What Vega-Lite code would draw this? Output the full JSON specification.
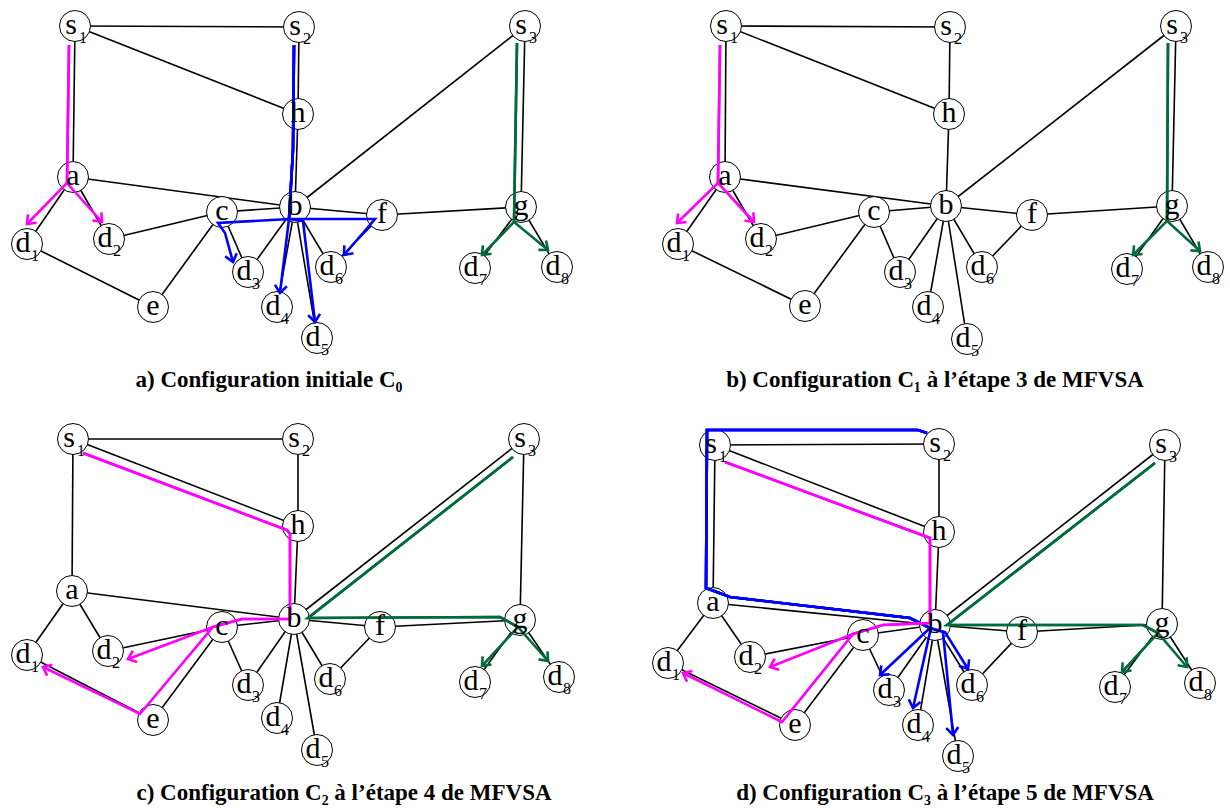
{
  "$schema": "https://vega.github.io/schema/vega-lite/v6.json",
  "width": 1230,
  "height": 809,
  "autosize": {"type": "fit", "contains": "padding"},
  "padding": 0,
  "background": "white",
  "config": {"view": {"stroke": null}},
  "datasets": {
    "nodes": [
      {"k":"a:s1","n":"s","sub":"1","x":75,"y":26},{"k":"a:s2","n":"s","sub":"2","x":299,"y":27},{"k":"a:s3","n":"s","sub":"3","x":525,"y":26},
      {"k":"a:h","n":"h","sub":"","x":298,"y":114},{"k":"a:a","n":"a","sub":"","x":73,"y":177},{"k":"a:b","n":"b","sub":"","x":295,"y":207},
      {"k":"a:c","n":"c","sub":"","x":222,"y":212},{"k":"a:f","n":"f","sub":"","x":382,"y":215},{"k":"a:g","n":"g","sub":"","x":521,"y":207},
      {"k":"a:d1","n":"d","sub":"1","x":27,"y":244},{"k":"a:d2","n":"d","sub":"2","x":109,"y":239},{"k":"a:d3","n":"d","sub":"3","x":248,"y":272},
      {"k":"a:d4","n":"d","sub":"4","x":277,"y":307},{"k":"a:d5","n":"d","sub":"5","x":317,"y":338},{"k":"a:d6","n":"d","sub":"6","x":331,"y":267},
      {"k":"a:d7","n":"d","sub":"7","x":475,"y":268},{"k":"a:d8","n":"d","sub":"8","x":557,"y":267},{"k":"a:e","n":"e","sub":"","x":153,"y":307},

      {"k":"b:s1","n":"s","sub":"1","x":726,"y":26},{"k":"b:s2","n":"s","sub":"2","x":950,"y":27},{"k":"b:s3","n":"s","sub":"3","x":1176,"y":26},
      {"k":"b:h","n":"h","sub":"","x":949,"y":114},{"k":"b:a","n":"a","sub":"","x":725,"y":177},{"k":"b:b","n":"b","sub":"","x":946,"y":206},
      {"k":"b:c","n":"c","sub":"","x":874,"y":212},{"k":"b:f","n":"f","sub":"","x":1032,"y":215},{"k":"b:g","n":"g","sub":"","x":1172,"y":206},
      {"k":"b:d1","n":"d","sub":"1","x":678,"y":244},{"k":"b:d2","n":"d","sub":"2","x":761,"y":239},{"k":"b:d3","n":"d","sub":"3","x":900,"y":272},
      {"k":"b:d4","n":"d","sub":"4","x":928,"y":307},{"k":"b:d5","n":"d","sub":"5","x":967,"y":339},{"k":"b:d6","n":"d","sub":"6","x":982,"y":267},
      {"k":"b:d7","n":"d","sub":"7","x":1127,"y":269},{"k":"b:d8","n":"d","sub":"8","x":1208,"y":267},{"k":"b:e","n":"e","sub":"","x":805,"y":306},

      {"k":"c:s1","n":"s","sub":"1","x":73,"y":439},{"k":"c:s2","n":"s","sub":"2","x":298,"y":439},{"k":"c:s3","n":"s","sub":"3","x":524,"y":439},
      {"k":"c:h","n":"h","sub":"","x":298,"y":526},{"k":"c:a","n":"a","sub":"","x":72,"y":591},{"k":"c:b","n":"b","sub":"","x":294,"y":619},
      {"k":"c:c","n":"c","sub":"","x":222,"y":627},{"k":"c:f","n":"f","sub":"","x":380,"y":627},{"k":"c:g","n":"g","sub":"","x":520,"y":620},
      {"k":"c:d1","n":"d","sub":"1","x":27,"y":655},{"k":"c:d2","n":"d","sub":"2","x":108,"y":651},{"k":"c:d3","n":"d","sub":"3","x":248,"y":685},
      {"k":"c:d4","n":"d","sub":"4","x":277,"y":718},{"k":"c:d5","n":"d","sub":"5","x":317,"y":750},{"k":"c:d6","n":"d","sub":"6","x":330,"y":679},
      {"k":"c:d7","n":"d","sub":"7","x":475,"y":682},{"k":"c:d8","n":"d","sub":"8","x":559,"y":677},{"k":"c:e","n":"e","sub":"","x":153,"y":720},

      {"k":"d:s1","n":"s","sub":"1","x":715,"y":445},{"k":"d:s2","n":"s","sub":"2","x":939,"y":444},{"k":"d:s3","n":"s","sub":"3","x":1165,"y":445},
      {"k":"d:h","n":"h","sub":"","x":939,"y":532},{"k":"d:a","n":"a","sub":"","x":713,"y":603},{"k":"d:b","n":"b","sub":"","x":935,"y":625},
      {"k":"d:c","n":"c","sub":"","x":863,"y":635},{"k":"d:f","n":"f","sub":"","x":1022,"y":632},{"k":"d:g","n":"g","sub":"","x":1162,"y":624},
      {"k":"d:d1","n":"d","sub":"1","x":668,"y":663},{"k":"d:d2","n":"d","sub":"2","x":750,"y":657},{"k":"d:d3","n":"d","sub":"3","x":889,"y":690},
      {"k":"d:d4","n":"d","sub":"4","x":918,"y":725},{"k":"d:d5","n":"d","sub":"5","x":958,"y":756},{"k":"d:d6","n":"d","sub":"6","x":972,"y":685},
      {"k":"d:d7","n":"d","sub":"7","x":1115,"y":687},{"k":"d:d8","n":"d","sub":"8","x":1200,"y":683},{"k":"d:e","n":"e","sub":"","x":795,"y":725}
    ],
    "edges": [
      {"s":"a:s1","t":"a:s2"},{"s":"a:s1","t":"a:h"},{"s":"a:s1","t":"a:a"},{"s":"a:s2","t":"a:h"},{"s":"a:h","t":"a:b"},{"s":"a:a","t":"a:b"},
      {"s":"a:a","t":"a:d1"},{"s":"a:a","t":"a:d2"},{"s":"a:d2","t":"a:c"},{"s":"a:c","t":"a:b"},{"s":"a:c","t":"a:e"},{"s":"a:c","t":"a:d3"},
      {"s":"a:d1","t":"a:e"},{"s":"a:b","t":"a:d3"},{"s":"a:b","t":"a:d4"},{"s":"a:b","t":"a:d5"},{"s":"a:b","t":"a:d6"},{"s":"a:b","t":"a:f"},
      {"s":"a:f","t":"a:d6"},{"s":"a:b","t":"a:s3"},{"s":"a:f","t":"a:g"},{"s":"a:s3","t":"a:g"},{"s":"a:g","t":"a:d7"},{"s":"a:g","t":"a:d8"},

      {"s":"b:s1","t":"b:s2"},{"s":"b:s1","t":"b:h"},{"s":"b:s1","t":"b:a"},{"s":"b:s2","t":"b:h"},{"s":"b:h","t":"b:b"},{"s":"b:a","t":"b:b"},
      {"s":"b:a","t":"b:d1"},{"s":"b:a","t":"b:d2"},{"s":"b:d2","t":"b:c"},{"s":"b:c","t":"b:b"},{"s":"b:c","t":"b:e"},{"s":"b:c","t":"b:d3"},
      {"s":"b:d1","t":"b:e"},{"s":"b:b","t":"b:d3"},{"s":"b:b","t":"b:d4"},{"s":"b:b","t":"b:d5"},{"s":"b:b","t":"b:d6"},{"s":"b:b","t":"b:f"},
      {"s":"b:f","t":"b:d6"},{"s":"b:b","t":"b:s3"},{"s":"b:f","t":"b:g"},{"s":"b:s3","t":"b:g"},{"s":"b:g","t":"b:d7"},{"s":"b:g","t":"b:d8"},

      {"s":"c:s1","t":"c:s2"},{"s":"c:s1","t":"c:h"},{"s":"c:s1","t":"c:a"},{"s":"c:s2","t":"c:h"},{"s":"c:h","t":"c:b"},{"s":"c:a","t":"c:b"},
      {"s":"c:a","t":"c:d1"},{"s":"c:a","t":"c:d2"},{"s":"c:d2","t":"c:c"},{"s":"c:c","t":"c:b"},{"s":"c:c","t":"c:e"},{"s":"c:c","t":"c:d3"},
      {"s":"c:d1","t":"c:e"},{"s":"c:b","t":"c:d3"},{"s":"c:b","t":"c:d4"},{"s":"c:b","t":"c:d5"},{"s":"c:b","t":"c:d6"},{"s":"c:b","t":"c:f"},
      {"s":"c:f","t":"c:d6"},{"s":"c:b","t":"c:s3"},{"s":"c:f","t":"c:g"},{"s":"c:s3","t":"c:g"},{"s":"c:g","t":"c:d7"},{"s":"c:g","t":"c:d8"},

      {"s":"d:s1","t":"d:s2"},{"s":"d:s1","t":"d:h"},{"s":"d:s1","t":"d:a"},{"s":"d:s2","t":"d:h"},{"s":"d:h","t":"d:b"},{"s":"d:a","t":"d:b"},
      {"s":"d:a","t":"d:d1"},{"s":"d:a","t":"d:d2"},{"s":"d:d2","t":"d:c"},{"s":"d:c","t":"d:b"},{"s":"d:c","t":"d:e"},{"s":"d:c","t":"d:d3"},
      {"s":"d:d1","t":"d:e"},{"s":"d:b","t":"d:d3"},{"s":"d:b","t":"d:d4"},{"s":"d:b","t":"d:d5"},{"s":"d:b","t":"d:d6"},{"s":"d:b","t":"d:f"},
      {"s":"d:f","t":"d:d6"},{"s":"d:b","t":"d:s3"},{"s":"d:f","t":"d:g"},{"s":"d:s3","t":"d:g"},{"s":"d:g","t":"d:d7"},{"s":"d:g","t":"d:d8"}
    ],
    "paths": [
      {"br":"a_m1","c":"m","o":0,"x":69,"y":45},{"br":"a_m1","c":"m","o":1,"x":67,"y":183},{"br":"a_m1","c":"m","o":2,"x":27,"y":224},
      {"br":"a_m2","c":"m","o":0,"x":69,"y":45},{"br":"a_m2","c":"m","o":1,"x":67,"y":183},{"br":"a_m2","c":"m","o":2,"x":102,"y":222},
      {"br":"a_b1","c":"b","o":0,"x":294,"y":45},{"br":"a_b1","c":"b","o":1,"x":293,"y":150},{"br":"a_b1","c":"b","o":2,"x":289,"y":219},{"br":"a_b1","c":"b","o":3,"x":218,"y":223},{"br":"a_b1","c":"b","o":4,"x":225,"y":233},{"br":"a_b1","c":"b","o":5,"x":233,"y":262},
      {"br":"a_b2","c":"b","o":0,"x":294,"y":45},{"br":"a_b2","c":"b","o":1,"x":293,"y":150},{"br":"a_b2","c":"b","o":2,"x":289,"y":219},{"br":"a_b2","c":"b","o":3,"x":375,"y":219},{"br":"a_b2","c":"b","o":4,"x":344,"y":255},
      {"br":"a_b3","c":"b","o":0,"x":294,"y":45},{"br":"a_b3","c":"b","o":1,"x":293,"y":150},{"br":"a_b3","c":"b","o":2,"x":289,"y":219},{"br":"a_b3","c":"b","o":3,"x":280,"y":293},
      {"br":"a_b4","c":"b","o":0,"x":294,"y":45},{"br":"a_b4","c":"b","o":1,"x":293,"y":150},{"br":"a_b4","c":"b","o":2,"x":289,"y":219},{"br":"a_b4","c":"b","o":3,"x":303,"y":221},{"br":"a_b4","c":"b","o":4,"x":315,"y":322},
      {"br":"a_g1","c":"g","o":0,"x":517,"y":43},{"br":"a_g1","c":"g","o":1,"x":514,"y":222},{"br":"a_g1","c":"g","o":2,"x":482,"y":255},
      {"br":"a_g2","c":"g","o":0,"x":517,"y":43},{"br":"a_g2","c":"g","o":1,"x":514,"y":222},{"br":"a_g2","c":"g","o":2,"x":548,"y":250},

      {"br":"b_m1","c":"m","o":0,"x":720,"y":45},{"br":"b_m1","c":"m","o":1,"x":718,"y":183},{"br":"b_m1","c":"m","o":2,"x":677,"y":223},
      {"br":"b_m2","c":"m","o":0,"x":720,"y":45},{"br":"b_m2","c":"m","o":1,"x":718,"y":183},{"br":"b_m2","c":"m","o":2,"x":754,"y":222},
      {"br":"b_g1","c":"g","o":0,"x":1168,"y":43},{"br":"b_g1","c":"g","o":1,"x":1167,"y":221},{"br":"b_g1","c":"g","o":2,"x":1133,"y":255},
      {"br":"b_g2","c":"g","o":0,"x":1168,"y":43},{"br":"b_g2","c":"g","o":1,"x":1167,"y":221},{"br":"b_g2","c":"g","o":2,"x":1200,"y":251},

      {"br":"c_m1","c":"m","o":0,"x":83,"y":453},{"br":"c_m1","c":"m","o":1,"x":287,"y":530},{"br":"c_m1","c":"m","o":2,"x":290,"y":534},{"br":"c_m1","c":"m","o":3,"x":290,"y":619},{"br":"c_m1","c":"m","o":4,"x":242,"y":619},{"br":"c_m1","c":"m","o":5,"x":213,"y":627},{"br":"c_m1","c":"m","o":6,"x":128,"y":659},
      {"br":"c_m2","c":"m","o":0,"x":83,"y":453},{"br":"c_m2","c":"m","o":1,"x":287,"y":530},{"br":"c_m2","c":"m","o":2,"x":290,"y":534},{"br":"c_m2","c":"m","o":3,"x":290,"y":619},{"br":"c_m2","c":"m","o":4,"x":242,"y":619},{"br":"c_m2","c":"m","o":5,"x":213,"y":627},{"br":"c_m2","c":"m","o":6,"x":140,"y":714},{"br":"c_m2","c":"m","o":7,"x":43,"y":667},
      {"br":"c_g1","c":"g","o":0,"x":513,"y":457},{"br":"c_g1","c":"g","o":1,"x":308,"y":618},{"br":"c_g1","c":"g","o":2,"x":500,"y":617},{"br":"c_g1","c":"g","o":3,"x":518,"y":627},{"br":"c_g1","c":"g","o":4,"x":482,"y":666},
      {"br":"c_g2","c":"g","o":0,"x":513,"y":457},{"br":"c_g2","c":"g","o":1,"x":308,"y":618},{"br":"c_g2","c":"g","o":2,"x":500,"y":617},{"br":"c_g2","c":"g","o":3,"x":518,"y":627},{"br":"c_g2","c":"g","o":4,"x":548,"y":661},

      {"br":"d_b1","c":"b","o":0,"x":927,"y":433},{"br":"d_b1","c":"b","o":1,"x":918,"y":430},{"br":"d_b1","c":"b","o":2,"x":707,"y":430},{"br":"d_b1","c":"b","o":3,"x":706,"y":588},{"br":"d_b1","c":"b","o":4,"x":730,"y":597},{"br":"d_b1","c":"b","o":5,"x":910,"y":618},{"br":"d_b1","c":"b","o":6,"x":930,"y":628},{"br":"d_b1","c":"b","o":7,"x":880,"y":675},
      {"br":"d_b2","c":"b","o":0,"x":927,"y":433},{"br":"d_b2","c":"b","o":1,"x":918,"y":430},{"br":"d_b2","c":"b","o":2,"x":707,"y":430},{"br":"d_b2","c":"b","o":3,"x":706,"y":588},{"br":"d_b2","c":"b","o":4,"x":730,"y":597},{"br":"d_b2","c":"b","o":5,"x":910,"y":618},{"br":"d_b2","c":"b","o":6,"x":930,"y":628},{"br":"d_b2","c":"b","o":7,"x":930,"y":632},{"br":"d_b2","c":"b","o":8,"x":913,"y":708},
      {"br":"d_b3","c":"b","o":0,"x":927,"y":433},{"br":"d_b3","c":"b","o":1,"x":918,"y":430},{"br":"d_b3","c":"b","o":2,"x":707,"y":430},{"br":"d_b3","c":"b","o":3,"x":706,"y":588},{"br":"d_b3","c":"b","o":4,"x":730,"y":597},{"br":"d_b3","c":"b","o":5,"x":910,"y":618},{"br":"d_b3","c":"b","o":6,"x":930,"y":628},{"br":"d_b3","c":"b","o":7,"x":943,"y":632},{"br":"d_b3","c":"b","o":8,"x":953,"y":735},
      {"br":"d_b4","c":"b","o":0,"x":927,"y":433},{"br":"d_b4","c":"b","o":1,"x":918,"y":430},{"br":"d_b4","c":"b","o":2,"x":707,"y":430},{"br":"d_b4","c":"b","o":3,"x":706,"y":588},{"br":"d_b4","c":"b","o":4,"x":730,"y":597},{"br":"d_b4","c":"b","o":5,"x":910,"y":618},{"br":"d_b4","c":"b","o":6,"x":930,"y":628},{"br":"d_b4","c":"b","o":7,"x":945,"y":632},{"br":"d_b4","c":"b","o":8,"x":968,"y":669},
      {"br":"d_m1","c":"m","o":0,"x":725,"y":462},{"br":"d_m1","c":"m","o":1,"x":930,"y":538},{"br":"d_m1","c":"m","o":2,"x":930,"y":623},{"br":"d_m1","c":"m","o":3,"x":883,"y":625},{"br":"d_m1","c":"m","o":4,"x":853,"y":634},{"br":"d_m1","c":"m","o":5,"x":770,"y":667},
      {"br":"d_m2","c":"m","o":0,"x":725,"y":462},{"br":"d_m2","c":"m","o":1,"x":930,"y":538},{"br":"d_m2","c":"m","o":2,"x":930,"y":623},{"br":"d_m2","c":"m","o":3,"x":883,"y":625},{"br":"d_m2","c":"m","o":4,"x":853,"y":634},{"br":"d_m2","c":"m","o":5,"x":782,"y":722},{"br":"d_m2","c":"m","o":6,"x":683,"y":673},
      {"br":"d_g1","c":"g","o":0,"x":1155,"y":463},{"br":"d_g1","c":"g","o":1,"x":947,"y":625},{"br":"d_g1","c":"g","o":2,"x":1143,"y":625},{"br":"d_g1","c":"g","o":3,"x":1158,"y":633},{"br":"d_g1","c":"g","o":4,"x":1122,"y":672},
      {"br":"d_g2","c":"g","o":0,"x":1155,"y":463},{"br":"d_g2","c":"g","o":1,"x":947,"y":625},{"br":"d_g2","c":"g","o":2,"x":1143,"y":625},{"br":"d_g2","c":"g","o":3,"x":1158,"y":633},{"br":"d_g2","c":"g","o":4,"x":1187,"y":667}
    ],
    "titles": [
      {"label":"a) Configuration initiale C₀","x":269,"y":387},
      {"label":"b) Configuration C₁ à l’étape 3 de MFVSA","x":935,"y":387},
      {"label":"c) Configuration C₂ à l’étape 4 de MFVSA","x":344,"y":800},
      {"label":"d) Configuration C₃ à l’étape 5 de MFVSA","x":945,"y":800}
    ]
  },
  "encoding": {
    "x": {"field": "x", "type": "quantitative", "scale": {"domain": [0, 1230], "nice": false, "zero": false}, "axis": null},
    "y": {"field": "y", "type": "quantitative", "scale": {"domain": [0, 809], "nice": false, "zero": false, "reverse": true}, "axis": null}
  },
  "layer": [
    {
      "data": {"name": "edges"},
      "transform": [
        {"lookup": "s", "from": {"data": {"name": "nodes"}, "key": "k", "fields": ["x", "y"]}},
        {"lookup": "t", "from": {"data": {"name": "nodes"}, "key": "k", "fields": ["x", "y"]}, "as": ["xe", "ye"]}
      ],
      "mark": {"type": "rule", "color": "black", "strokeWidth": 1.6},
      "encoding": {
        "x2": {"field": "xe"},
        "y2": {"field": "ye"}
      }
    },
    {
      "data": {"name": "nodes"},
      "mark": {"type": "point", "shape": "circle", "size": 960, "filled": true, "fill": "white", "stroke": "black", "strokeWidth": 1, "opacity": 1}
    },
    {
      "data": {"name": "paths"},
      "mark": {"type": "line", "strokeWidth": 2.6, "strokeJoin": "miter"},
      "encoding": {
        "detail": {"field": "br"},
        "order": {"field": "o", "type": "quantitative"},
        "color": {"field": "c", "type": "nominal", "scale": {"domain": ["m", "b", "g"], "range": ["#ff00ff", "#0000ff", "#006b3c"]}, "legend": null}
      }
    },
    {
      "data": {"name": "paths"},
      "transform": [
        {"window": [{"op": "lag", "field": "x", "as": "px"}, {"op": "lag", "field": "y", "as": "py"}], "sort": [{"field": "o", "order": "ascending"}], "groupby": ["br"]},
        {"joinaggregate": [{"op": "max", "field": "o", "as": "mo"}], "groupby": ["br"]},
        {"filter": "datum.o == datum.mo"},
        {"calculate": "atan2(datum.y - datum.py, datum.x - datum.px) * 180 / PI", "as": "ang"}
      ],
      "mark": {"type": "point", "shape": "M -1 -0.8 L 0 0 L -1 0.8", "filled": false, "size": 225, "strokeWidth": 2.6, "opacity": 1},
      "encoding": {
        "angle": {"field": "ang", "type": "quantitative", "scale": null},
        "color": {"field": "c", "type": "nominal", "scale": {"domain": ["m", "b", "g"], "range": ["#ff00ff", "#0000ff", "#006b3c"]}, "legend": null}
      }
    },
    {
      "data": {"name": "nodes"},
      "transform": [{"filter": "datum.sub == ''"}],
      "mark": {"type": "text", "font": "Liberation Serif", "fontSize": 30, "baseline": "alphabetic", "align": "center", "dy": 8, "color": "black"},
      "encoding": {"text": {"field": "n"}}
    },
    {
      "data": {"name": "nodes"},
      "transform": [{"filter": "datum.sub != ''"}],
      "mark": {"type": "text", "font": "Liberation Serif", "fontSize": 30, "baseline": "alphabetic", "align": "center", "dx": -4, "dy": 8, "color": "black"},
      "encoding": {"text": {"field": "n"}}
    },
    {
      "data": {"name": "nodes"},
      "transform": [{"filter": "datum.sub != ''"}],
      "mark": {"type": "text", "font": "Liberation Serif", "fontSize": 16, "baseline": "alphabetic", "align": "center", "dx": 8, "dy": 17, "color": "black"},
      "encoding": {"text": {"field": "sub"}}
    },
    {
      "data": {"name": "titles"},
      "mark": {"type": "text", "font": "Liberation Serif", "fontSize": 23, "fontWeight": "bold", "baseline": "alphabetic", "align": "center", "color": "black"},
      "encoding": {"text": {"field": "label"}}
    }
  ]
}
